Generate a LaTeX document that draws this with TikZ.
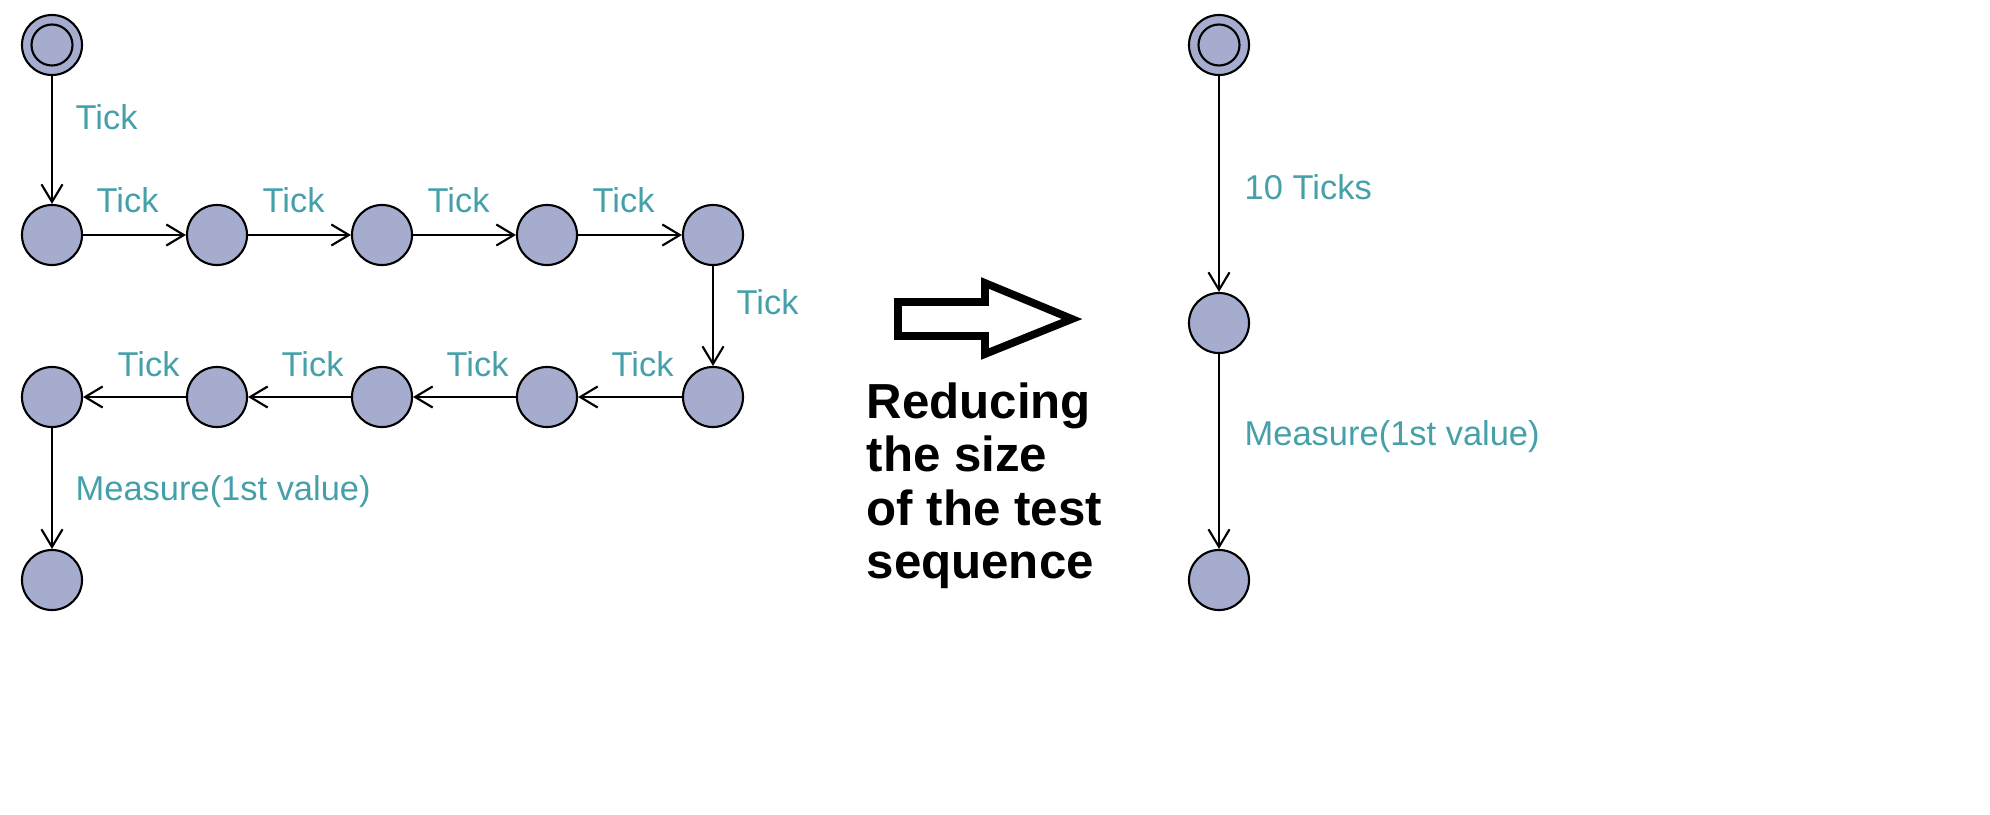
\documentclass[tikz,border=0pt]{standalone}
\usepackage{fontspec}
\setmainfont{Liberation Sans}
\usetikzlibrary{arrows.meta}
\definecolor{nodefill}{RGB}{165,172,205}
\definecolor{lbl}{RGB}{70,160,170}
\begin{document}
\begin{tikzpicture}[x=0.01cm,y=-0.01cm,
  st/.style={circle,draw=black,fill=nodefill,minimum size=0.6cm,inner sep=0pt,line width=0.6pt},
  ini/.style={st,path picture={\draw[line width=0.6pt] (path picture bounding box.center) circle (0.205cm);}},
  tr/.style={draw=black,line width=0.6pt,-{Straight Barb[length=5pt,width=6pt]}},
  lb/.style={text=lbl,font=\fontsize{9.8pt}{12pt}\selectfont,inner sep=0pt,anchor=west}]
\useasboundingbox (0,0) rectangle (1990,815);
\node[ini] (i) at (52,45) {};
\foreach \n/\x in {a/52,b/217,c/382,d/547,e/713}{\node[st] (\n) at (\x,235) {};}
\foreach \n/\x in {f/52,g/217,h/382,k/547,l/713}{\node[st] (\n) at (\x,397) {};}
\node[st] (m) at (52,580) {};
\draw[tr] (i) -- (a);
\draw[tr] (a) -- (b); \draw[tr] (b) -- (c); \draw[tr] (c) -- (d); \draw[tr] (d) -- (e);
\draw[tr] (e) -- (l);
\draw[tr] (l) -- (k); \draw[tr] (k) -- (h); \draw[tr] (h) -- (g); \draw[tr] (g) -- (f);
\draw[tr] (f) -- (m);
\node[lb] (t0) at (75,117) {Tick};
\node[lb] (t1) at (96,200) {Tick};
\node[lb] (t2) at (262,200) {Tick};
\node[lb] (t3) at (427,200) {Tick};
\node[lb] (t4) at (592,200) {Tick};
\node[lb] (t5) at (736,302) {Tick};
\node[lb] (t6) at (117,364) {Tick};
\node[lb] (t7) at (281,364) {Tick};
\node[lb] (t8) at (446,364) {Tick};
\node[lb] (t9) at (611,364) {Tick};
\node[lb] (ms) at (75,492) {Measure(1st value)};
\node[ini] (ri) at (1219,45) {};
\node[st] (rm) at (1219,323) {};
\node[st] (rb) at (1219,580) {};
\draw[tr] (ri) -- (rm);
\draw[tr] (rm) -- (rb);
\node[lb] (r1) at (1244,187) {10 Ticks};
\node[lb] (r2) at (1244,437) {Measure(1st value)};
\draw[line width=2.2pt,join=miter] (898,302) -- (985,302) -- (985,283) -- (1072,319) -- (985,354) -- (985,336) -- (898,336) -- cycle;
\node[font=\bfseries\fontsize{14pt}{15.2pt}\selectfont,align=left,anchor=north west,inner sep=0pt] (txt) at (866,382) {Reducing\\the size\\of the test\\sequence};
\end{tikzpicture}
\end{document}
